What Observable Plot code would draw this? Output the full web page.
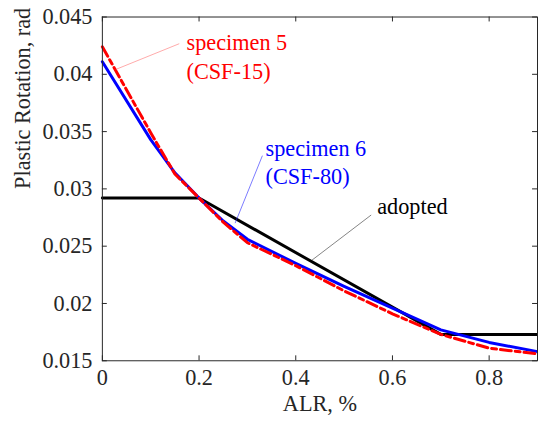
<!DOCTYPE html>
<html>
<head>
<meta charset="utf-8">
<script src="https://cdn.jsdelivr.net/npm/d3@7"></script>
<script src="https://cdn.jsdelivr.net/npm/@observablehq/plot@0.6"></script>
<style>
  html, body { margin: 0; padding: 0; background: #fff; }
  #wrap { width: 538px; height: 427px; overflow: hidden; }
  #wrap svg, #wrap svg text { font-family: "Liberation Serif", "Times New Roman", serif !important; }
</style>
</head>
<body>
<div id="wrap"></div>
<script>
// ALR values (x)
const alr = [0, 0.1, 0.15, 0.2, 0.25, 0.3, 0.4, 0.5, 0.6, 0.7, 0.8, 0.9];
// specimen 5 (CSF-15), plastic rotation (rad)
const specimen5 = [0.0424, 0.0349, 0.0313, 0.0292, 0.0271, 0.0253, 0.0233, 0.0211, 0.0191, 0.0173, 0.0161, 0.0156];
// specimen 6 (CSF-80), plastic rotation (rad)
const specimen6 = [0.0411, 0.0343, 0.0314, 0.0292, 0.0272, 0.0256, 0.0235, 0.0215, 0.0196, 0.0177, 0.0166, 0.0158];
// adopted curve
const adoptedX = [0, 0.2, 0.7, 0.9];
const adoptedY = [0.0292, 0.0292, 0.0173, 0.0173];

const xTicks = [0, 0.2, 0.4, 0.6, 0.8];
const yTicks = [0.015, 0.02, 0.025, 0.03, 0.035, 0.04, 0.045];

// annotations (data coordinates)
const labels = [
  {x: 0.174, y: 0.0427, text: "specimen 5", color: "#ff0000"},
  {x: 0.174, y: 0.0402, text: "(CSF-15)", color: "#ff0000"},
  {x: 0.3374, y: 0.03347, text: "specimen 6", color: "#0000ff"},
  {x: 0.3374, y: 0.03106, text: "(CSF-80)", color: "#0000ff"},
  {x: 0.5685, y: 0.02847, text: "adopted", color: "#000000"}
];
const leaders = [
  {x1: 0.159, y1: 0.04267, x2: 0.028, y2: 0.04043, color: "#ff7070"},
  {x1: 0.331, y1: 0.0329, x2: 0.2746, y2: 0.02701, color: "#2020ff"},
  {x1: 0.556, y1: 0.02772, x2: 0.4335, y2: 0.02378, color: "#303030"}
];

const s5 = alr.map((x, i) => ({x, y: specimen5[i]}));
const s6 = alr.map((x, i) => ({x, y: specimen6[i]}));
const ad = adoptedX.map((x, i) => ({x, y: adoptedY[i]}));

const font = "Liberation Serif";
const W = 544, H = 427;
const mL = 103, mR = 1, mT = 16.7, mB = 62.7;
const pw = W - mL - mR, ph = H - mT - mB;
const tk = 5;

const chart = Plot.plot({
  width: W,
  height: H,
  marginLeft: mL,
  marginRight: mR,
  marginTop: mT,
  marginBottom: mB,
  style: {fontFamily: font, fontSize: "22.5px", color: "#262626", background: "#fff"},
  x: {domain: [0, 0.9]},
  y: {domain: [0.015, 0.045]},
  marks: [
    Plot.axisX(xTicks, {tickSize: 0, tickPadding: 9, tickFormat: d => String(d), label: null, fontSize: 22.5, fontFamily: font, fill: "#262626"}),
    Plot.axisY(yTicks, {tickSize: 0, tickPadding: 10, tickFormat: d => String(d), label: null, fontSize: 22.5, fontFamily: font, fill: "#262626"}),
    // inward ticks on all four sides
    Plot.tickY(yTicks, {y: d => d, insetRight: pw - tk, stroke: "#262626", strokeWidth: 1}),
    Plot.tickY(yTicks, {y: d => d, insetLeft: pw - tk, stroke: "#262626", strokeWidth: 1}),
    Plot.tickX(xTicks, {x: d => d, insetTop: ph - tk, stroke: "#262626", strokeWidth: 1}),
    Plot.tickX(xTicks, {x: d => d, insetBottom: ph - tk, stroke: "#262626", strokeWidth: 1}),
    Plot.line(ad, {x: "x", y: "y", stroke: "#000", strokeWidth: 3}),
    Plot.line(s6, {x: "x", y: "y", stroke: "#0000ff", strokeWidth: 3}),
    Plot.line(s5, {x: "x", y: "y", stroke: "#ff0000", strokeWidth: 3, strokeDasharray: "11,4,5,4"}),
    Plot.link(leaders, {x1: "x1", y1: "y1", x2: "x2", y2: "y2", stroke: "color", strokeWidth: 0.6}),
    Plot.text(labels, {x: "x", y: "y", text: "text", fill: "color", textAnchor: "start", lineAnchor: "middle", fontSize: 22.5, fontFamily: font}),
    Plot.text(["ALR, %"], {frameAnchor: "bottom", dy: 43.5, lineAnchor: "middle", fontSize: 22.5, fontFamily: font, fill: "#262626"}),
    Plot.text(["Plastic Rotation, rad"], {frameAnchor: "left", dx: -80, rotate: -90, lineAnchor: "middle", fontSize: 22.5, fontFamily: font, fill: "#262626"}),
    Plot.frame({stroke: "#262626", strokeWidth: 1})
  ]
});
document.getElementById("wrap").appendChild(chart);
</script>
</body>
</html>
